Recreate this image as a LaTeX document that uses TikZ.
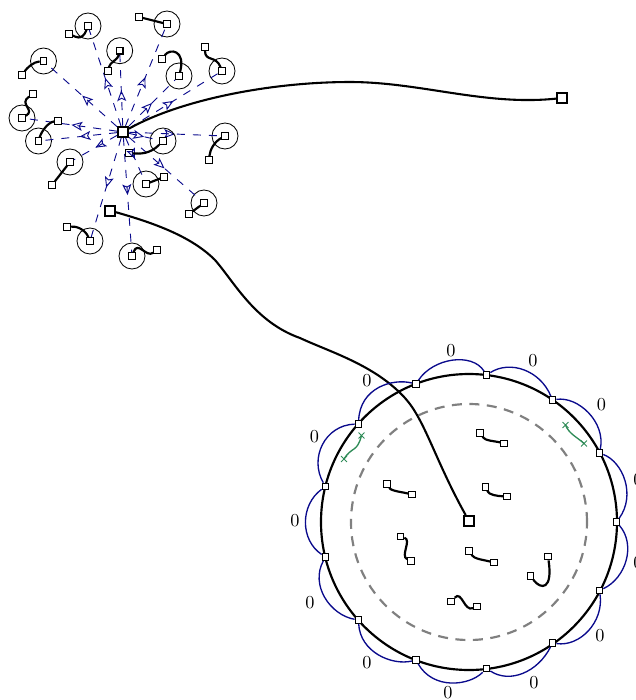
\documentclass[tikz,border=0pt]{standalone}
\usetikzlibrary{arrows.meta,decorations.markings,shapes.misc}
\definecolor{arcblue}{RGB}{10,10,140}
\definecolor{crossgreen}{RGB}{46,139,87}
\tikzset{
  x=0.6pt,y=-0.6pt,
  smallbox/.style={draw=black,fill=white,rectangle,inner sep=0pt,minimum size=3.9pt,line width=0.7pt},
  bigbox/.style={draw=black,fill=white,rectangle,inner sep=0pt,minimum size=6pt,line width=1.2pt},
  disk/.style={draw=black,circle,inner sep=0pt,minimum size=15.6pt,line width=0.5pt},
  strand/.style={draw=black,line width=1.3pt},
  longstrand/.style={draw=black,line width=1.25pt},
  spoke/.style={draw=arcblue,line width=0.55pt,dash pattern=on 4.8pt off 4.8pt,postaction={decorate},
    decoration={markings,mark=at position 0.5 with {\arrow[arcblue,line width=0.55pt]{Stealth[open,length=6.5pt,width=5.4pt,inset=1.4pt]}}}},
  arc/.style={draw=arcblue,line width=0.8pt},
  greenx/.style={draw=crossgreen,cross out,inner sep=0pt,minimum size=3pt,line width=0.55pt},
  greenpath/.style={draw=crossgreen,line width=0.8pt},
  zero/.style={font=\fontsize{10.95}{12}\selectfont,inner sep=0pt},
}
\begin{document}
\begin{tikzpicture}
\useasboundingbox (0,0) rectangle (636,700);
% big circles
\node[circle,draw=black,line width=1.3pt,inner sep=0pt,minimum size=177.6pt] (rim) at (469,522) {};
\node[circle,draw=black!50,line width=1.3pt,dash pattern=on 6pt off 4.5pt,inner sep=0pt,minimum size=141.6pt] (core) at (469,522) {};
% cluster
\node[bigbox] (hub) at (123,132) {};
\foreach \i/\cx/\cy/\ox/\oy in {1/88/26/69/34,2/119.7/50.7/108/71,3/43.5/61/22/75,4/22/118/33/94,5/38.5/141/58/121,6/167/24/139/17,7/179/76/162/59,8/222/71/205/47,9/225/136/209/160,10/163/141/129/153,11/146/184/164/177,12/204/203/189/214,13/132/256/157/250,14/70/162/52/185,15/90/241/67/227}{
  \node[disk] (d\i) at (\cx,\cy) {};
  \node[smallbox] (a\i) at (\cx,\cy) {};
  \node[smallbox] (o\i) at (\ox,\oy) {};
  \draw[spoke] (hub) -- (a\i);
}
\draw[strand] (a1) .. controls (82,42) and (74,36) .. (o1);
\draw[strand] (a2) .. controls (118,60) and (110,62) .. (o2);
\draw[strand] (a3) .. controls (33,62) and (27,68) .. (o3);
\draw[strand] (a4) .. controls (36,110) and (18,104) .. (o4);
\draw[strand] (a5) .. controls (42,130) and (49,122) .. (o5);
\draw[strand] (a6) -- (o6);
\draw[strand] (a7) .. controls (186,50) and (170,48) .. (o7);
\draw[strand] (a8) .. controls (216,55) and (205,62) .. (o8);
\draw[strand] (a9) .. controls (214,142) and (210,150) .. (o9);
\draw[strand] (a10) .. controls (150,154) and (140,154) .. (o10);
\draw[strand] (a11) -- (o11);
\draw[strand] (a12) -- (o12);
\draw[strand] (a13) .. controls (138,240) and (146,258) .. (o13);
\draw[strand] (a14) -- (o14);
\draw[strand] (a15) .. controls (85,229) and (76,226) .. (o15);
% long strands
\node[bigbox] (far) at (562,98) {};
\node[bigbox] (low) at (110,210.5) {};
\node[bigbox] (mid) at (469,521) {};
\draw[longstrand] (hub) .. controls (180,100) and (270,82) .. (350,82) .. controls (420,82) and (485,106) .. (far);
\draw[longstrand] (low) .. controls (150,222) and (190,235) .. (215,260) .. controls (235,283) and (255,322) .. (300,338) .. controls (330,352) and (375,365) .. (405,398) .. controls (425,420) and (435,460) .. (mid);
% rim boxes
\foreach \i/\x/\y in {1/416/384,2/486.5/375,3/552.5/400,4/599.5/453,5/616.5/522,6/599.5/590.5,7/552.5/643,8/486.5/668.5,9/416/660,10/358.5/620,11/325.5/557,12/325.5/486.5,13/358.5/424}{
  \node[smallbox] (r\i) at (\x,\y) {};
}
\draw[arc] (r1) .. controls (433,358) and (472,352) .. (r2);
\draw[arc] (r2) .. controls (510,360) and (540,370) .. (r3);
\draw[arc] (r3) .. controls (578,396) and (606,422) .. (r4);
\draw[arc] (r4) .. controls (623,462) and (636,495) .. (r5);
\draw[arc] (r5) .. controls (636,545) and (626,578) .. (r6);
\draw[arc] (r6) .. controls (604,622) and (580,647) .. (r7);
\draw[arc] (r7) .. controls (538,672) and (510,684) .. (r8);
\draw[arc] (r8) .. controls (469,686) and (433,690) .. (r9);
\draw[arc] (r9) .. controls (392,666) and (360,652) .. (r10);
\draw[arc] (r10) .. controls (330,615) and (310,585) .. (r11);
\draw[arc] (r11) .. controls (300,540) and (300,505) .. (r12);
\draw[arc] (r12) .. controls (309,458) and (325,425) .. (r13);
\draw[arc] (r13) .. controls (360,388) and (392,378) .. (r1);
% labels
\foreach \n/\x/\y in {1/451/350.5,2/533/361,3/601.5/405,4/638/480,5/638/563,6/600/636,7/534/683,8/448/693,9/367/663,10/310/603,11/295/521,12/314.5/437,13/367/380.5}{
  \node[zero] (z\n) at (\x,\y) {0};
}
% inner strands
\foreach \i/\ax/\ay/\bx/\by in {1/480/433/504/443.5,2/485.5/487/507/496.5,3/387/484/412/494.5,4/400.5/536.5/411/561,5/469/551/494/562.5,6/548/556.5/530.5/576,7/451/601.5/477/606.5}{
  \node[smallbox] (p\i) at (\ax,\ay) {};
  \node[smallbox] (q\i) at (\bx,\by) {};
}
\draw[strand] (p1) .. controls (485,441) and (495,441) .. (q1);
\draw[strand] (p2) .. controls (489,495) and (497,496) .. (q2);
\draw[strand] (p3) .. controls (391,491) and (402,492) .. (q3);
\draw[strand] (p4) .. controls (412,540) and (400,556) .. (q4);
\draw[strand] (p5) .. controls (474,559) and (484,560) .. (q5);
\draw[strand] (p6) .. controls (553,590) and (541,590) .. (q6);
\draw[strand] (p7) .. controls (462,590) and (464,612) .. (q7);
% green
\node[greenx] (g1) at (361.5,435.5) {};
\node[greenx] (g2) at (344,459) {};
\node[greenx] (g3) at (565.5,425) {};
\node[greenx] (g4) at (584,443.5) {};
\draw[greenpath] (g1.center) .. controls (357,453) and (352,446) .. (g2.center);
\draw[greenpath] (g3.center) .. controls (569,434) and (577,437) .. (g4.center);
\end{tikzpicture}
\end{document}
